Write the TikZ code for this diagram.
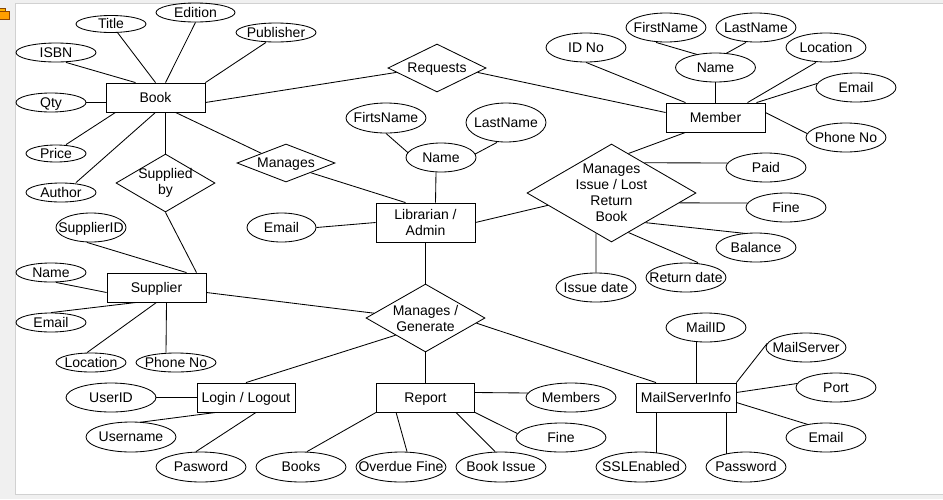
\documentclass[tikz,border=0pt]{standalone}
\usepackage{fontspec}
\setmainfont{Liberation Sans}
\usetikzlibrary{shapes.geometric,calc}
\begin{document}
\begin{tikzpicture}[x=1pt,y=-1pt,
  font=\fontsize{14}{16}\selectfont,
  line width=0.85pt,
  every label/.style={inner sep=0pt, text height=9.5pt, text depth=0pt},
  multi/.style={align=center, text height={}, text depth={}},
  ent/.style={draw, rectangle, minimum width=99pt, minimum height=29pt, inner sep=0pt, align=center, text height=9.5pt, text depth=0pt},
  attr/.style 2 args={draw, ellipse, inner sep=0pt, minimum width=#1pt, minimum height=#2pt},
  rel/.style 2 args={draw, diamond, inner sep=0pt, minimum width=#1pt, minimum height=#2pt}]
\useasboundingbox (0,0) rectangle (943,499);
% frame
\fill[black!6] (0,0) rectangle (943,499);
\filldraw[fill=white, draw=black!18, line width=0.8pt] (15.5,3) rectangle (944,494);
\filldraw[fill=orange!75!yellow, draw=orange!55!black, line width=0.5pt] (-1,11) rectangle (9,19);
\filldraw[fill=orange!60!yellow, draw=orange!55!black, line width=0.5pt] (-1,8) rectangle (5,11);

% entities
\node[ent] (book) at (155.5,97.5) {Book};
\node[ent] (member) at (715.5,117.5) {Member};
\node[ent, multi, minimum height=39pt] (librarian) at (425.5,222.5) {Librarian /\\Admin};
\node[ent] (supplier) at (156.5,287.5) {Supplier};
\node[ent, minimum width=98pt] (login) at (246,397.5) {Login / Logout};
\node[ent, minimum width=98pt] (report) at (425.5,397.5) {Report};
\node[ent, minimum width=100pt] (msi) at (686,397.5) {MailServerInfo};

% relationships
\node[rel={98}{48}, label=center:Requests] (requests) at (437,68) {};
\node[rel={98}{38}, label=center:Manages] (manages) at (286,163) {};
\node[rel={99}{58}, label={[multi]center:Supplied\\by}] (supplied) at (165.5,183) {};
\node[rel={169}{98}, label={[multi]center:Manages\\Issue / Lost\\Return\\Book}] (mi) at (611.5,193) {};
\node[rel={119}{68}, label={[multi]center:Manages /\\Generate}] (mg) at (425.5,318) {};

% attributes
\node[attr={70}{17}, label=center:Title] (title) at (111,24) {};
\node[attr={79}{19}, label=center:Edition] (edition) at (195.5,12.5) {};
\node[attr={80}{19}, label=center:Publisher] (publisher) at (276,32.5) {};
\node[attr={80}{19}, label=center:ISBN] (isbn) at (56,52.5) {};
\node[attr={70}{19}, label=center:Qty] (qty) at (51,102.5) {};
\node[attr={60}{17}, label=center:Price] (price) at (56,153.5) {};
\node[attr={70}{19}, label=center:Author] (author) at (61,192.5) {};
\node[attr={70}{29}, label=center:SupplierID] (supplierid) at (91,227.5) {};
\node[attr={69}{29}, label=center:Email] (lemail) at (281.5,227.5) {};
\node[attr={80}{30}, label=center:FirtsName] (firtsname) at (386,118) {};
\node[attr={80}{39}, label=center:LastName] (llast) at (506,122.5) {};
\node[attr={70}{29}, label=center:Name] (lname) at (441,157.5) {};
\node[attr={80}{29}, label=center:ID No] (idno) at (586,47.5) {};
\node[attr={80}{29}, label=center:FirstName] (mfirst) at (666,27.5) {};
\node[attr={80}{29}, label=center:LastName] (mlast) at (756,27.5) {};
\node[attr={80}{29}, label=center:Name] (mname) at (715.5,67.5) {};
\node[attr={80}{29}, label=center:Location] (mloc) at (826,47.5) {};
\node[attr={80}{29}, label=center:Email] (memail) at (856,87.5) {};
\node[attr={80}{29}, label=center:Phone No] (mphone) at (846,137.5) {};
\node[attr={80}{29}, label=center:Paid] (paid) at (766,167.5) {};
\node[attr={80}{29}, label=center:Fine] (fine1) at (786,207.5) {};
\node[attr={80}{29}, label=center:Balance] (balance) at (756,247.5) {};
\node[attr={80}{29}, label=center:Return date] (rdate) at (686,277.5) {};
\node[attr={80}{29}, label=center:Issue date] (idate) at (596,287.5) {};
\node[attr={70}{19}, label=center:Name] (sname) at (51,272.5) {};
\node[attr={70}{19}, label=center:Email] (semail) at (51,322.5) {};
\node[attr={70}{19}, label=center:Location] (sloc) at (91,362.5) {};
\node[attr={80}{19}, label=center:Phone No] (sphone) at (176,362.5) {};
\node[attr={90}{29}, label=center:UserID] (userid) at (111,397.5) {};
\node[attr={90}{30}, label=center:Username] (username) at (131,437) {};
\node[attr={90}{30}, label=center:Pasword] (pasword) at (201,467) {};
\node[attr={90}{30}, label=center:Books] (books) at (301,467) {};
\node[attr={90}{30}, label=center:Overdue Fine] (ofine) at (401,467) {};
\node[attr={90}{30}, label=center:Book Issue] (bissue) at (501,467) {};
\node[attr={90}{29}, label=center:Members] (members) at (571,397.5) {};
\node[attr={90}{29}, label=center:Fine] (fine2) at (561,437.5) {};
\node[attr={90}{30}, label=center:SSLEnabled] (ssl) at (641,467) {};
\node[attr={80}{30}, label=center:Password] (mpass) at (746,467) {};
\node[attr={80}{29}, label=center:MailID] (mailid) at (706,327.5) {};
\node[attr={80}{29}, label=center:MailServer] (mailserver) at (806,347.5) {};
\node[attr={80}{29}, label=center:Port] (port) at (836,387.5) {};
\node[attr={80}{29}, label=center:Email] (m3email) at (826,437.5) {};

% Book
\draw (title) -- (book.north);
\draw (edition.south) -- ($(book.north)+(10,0)$);
\draw ($(publisher.south)+(-10,0)$) -- (book.north east);
\draw ($(isbn.south)+(10,0)$) -- ($(book.north)+(-20,0)$);
\draw (qty.east) -- ($(book.west)+(0,5)$);
\draw ($(price.north)+(10,0)$) -- ($(book.south)+(-40,0)$);
\draw ($(author.north)+(15,0)$) -- (book.south);
\draw ($(book.south)+(10,0)$) -- (supplied.north);
\draw ($(book.south)+(20,0)$) -- (manages.north west);
\draw ($(book.east)+(0,5)$) -- ($(requests.west)!0.18!(requests.south)$);
\draw ($(requests.east)!0.18!(requests.south)$) -- ($(member.west)+(0,-5)$);
\draw (manages.south east) -- ($(librarian.north)+(-20,0)$);
% Supplier
\draw (supplied.south) -- ($(supplier.north)+(40,0)$);
\draw ($(supplierid.south)+(-4,0)$) -- ($(supplier.north)+(30,0)$);
\draw ($(sname.south)+(5,0)$) -- ($(supplier.west)+(0,5)$);
\draw (semail.north) -- ($(supplier.south)+(-20,0)$);
\draw ($(sloc.north)+(-4,0)$) -- (supplier.south);
\draw ($(supplier.south)+(10,0)$) -- ($(sphone.north)+(-10,0)$);
\draw ($(supplier.east)+(0,5)$) -- ($(mg.west)!0.14!(mg.north)$);
% Librarian
\draw (lemail.east) -- (librarian.west);
\draw ($(lname.south)+(-5,0)$) -- ($(librarian.north)+(10,0)$);
\draw (firtsname.south) -- ($(lname)+(-33,-4.8)$);
\draw ($(llast.south)+(-9,0)$) -- ($(lname)+(34,-3.4)$);
\draw (librarian.east) -- ($(mi.west)!0.25!(mi.south)$);
\draw (librarian.south) -- (mg.north);
% Manages / Generate
\draw (mg.south west) -- (login.north);
\draw (mg.south) -- (report.north);
\draw ($(mg.east)!0.15!(mg.south)$) -- ($(msi.north)+(-30,0)$);
% Member
\draw ($(member.south)+(-30,0)$) -- ($(mi.north)!0.2!(mi.east)$);
\draw (mname.south) -- (member.north);
\draw ($(mfirst.south)+(-10,0)$) -- ($(mname)+(-18,-12.9)$);
\draw ($(mlast.south)+(-10,0)$) -- ($(mname)+(10.5,-14)$);
\draw (idno.south) -- ($(member.north)+(-30,0)$);
\draw ($(mloc.south)+(-10,0)$) -- ($(member.north)+(32,0)$);
\draw ($(memail.west)+(1.5,-4)$) -- ($(member.north)+(41,0)$);
\draw ($(member.east)+(0,-5)$) -- ($(mphone.west)+(1.5,-4)$);
% Manages Issue
\draw ($(mi.north)!0.388!(mi.east)$) -- ($(paid.west)+(2,-4.5)$);
\draw ($(mi.east)!0.2!(mi.south)$) -- ($(fine1.west)+(2,-4.5)$);
\draw ($(mi.east)!0.6!(mi.south)$) -- ($(balance)+(-10,-14)$);
\draw ($(mi.east)!0.8!(mi.south)$) -- ($(rdate.north)+(12,0)$);
\draw ($(mi.south)!0.1834!(mi.west)$) -- (idate.north);
% Login
\draw (userid.east) -- (login.west);
\draw ($(username)+(9,-14.7)$) -- ($(login.south)+(-30,0)$);
\draw ($(pasword.north)+(-5,0)$) -- ($(login.south)+(10,0)$);
% Report
\draw ($(books.north)+(6,0)$) -- (report.south west);
\draw ($(ofine.north)+(6,0)$) -- ($(report.south west)+(20,0)$);
\draw ($(bissue.north)+(-6,0)$) -- ($(report.south east)+(-19,0)$);
\draw (report.south east) -- ($(fine2.west)+(1.75,-4)$);
\draw ($(report.east)+(0,-5)$) -- ($(members.west)+(2.2,-4.5)$);
% MailServerInfo
\draw ($(mailid.south)+(-10,0)$) -- ($(msi.north)+(10,0)$);
\draw (msi.north east) -- ($(mailserver.west)+(1.5,-4)$);
\draw ($(msi.east)+(0,-5)$) -- ($(port.west)+(1.5,-4)$);
\draw ($(msi.east)+(0,5)$) -- ($(m3email)+(-18,-13)$);
\draw ($(msi.south)+(-30,0)$) -- ($(ssl)+(15,-14.1)$);
\draw ($(msi.south)+(40,0)$) -- ($(mpass)+(-20,-13)$);
\end{tikzpicture}
\end{document}
